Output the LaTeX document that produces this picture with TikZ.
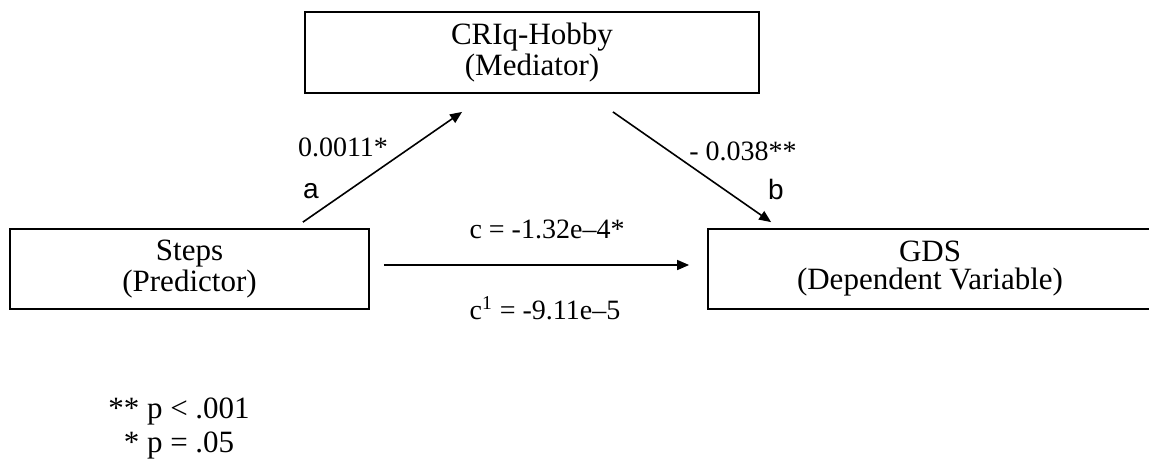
\documentclass[tikz,border=0pt]{standalone}
\usepackage{fontspec}
\setmainfont{Liberation Serif}
\newfontfamily\pathfont{Liberation Sans}
\usetikzlibrary{arrows.meta}

\begin{document}
\begin{tikzpicture}[x=0.5pt,y=-0.5pt,>={Triangle[length=6pt,width=5pt]},
  varbox/.style={draw,line width=0.9pt,inner sep=0pt,align=center,minimum height=40pt,font=\fontsize{15.5}{14}\selectfont},
  coef/.style={font=\fontsize{14}{16}\selectfont},
  pathname/.style={font=\pathfont\fontsize{14}{16}\selectfont}]
\useasboundingbox (0,0) rectangle (1149,468);
% the three variables
\node[varbox,minimum width=227pt,minimum height=40.5pt] (med) at (532,52.5) {CRIq-Hobby\\(Mediator)};
\node[varbox,minimum width=179.5pt] (steps) at (189.5,269) {Steps\\(Predictor)};
\node[varbox,minimum width=222pt] (gds) at (930,269) {GDS\\(Dependent Variable)};
% paths a, b and c
\draw[->,line width=0.8pt] ([xshift=-33.5pt,yshift=3pt]steps.north east) -- ([xshift=79pt,yshift=-9pt]med.south west);
\draw[->,line width=0.8pt] ([xshift=-73.5pt,yshift=-9pt]med.south east) -- ([xshift=32pt,yshift=3pt]gds.north west);
\draw[->,line width=0.8pt] ([xshift=7pt,yshift=2pt]steps.east) -- ([xshift=-9pt,yshift=2pt]gds.west);
\node[coef] (coefa) at (343,147) {0.0011*};
\node[pathname] (namea) at (311,191) {a};
\node[coef] (coefb) at (743,151) {- 0.038**};
\node[pathname] (nameb) at (776,189) {b};
\node[coef] (coefc) at (547,229) {c = -1.32e–4*};
\node[coef] (coefcp) at (545,308) {c\textsuperscript{1} = -9.11e–5};
% significance levels
\node[align=center,font=\fontsize{15.5}{17}\selectfont] (legend) at (179,428) {** p < .001\\* p = .05};
\end{tikzpicture}
\end{document}
